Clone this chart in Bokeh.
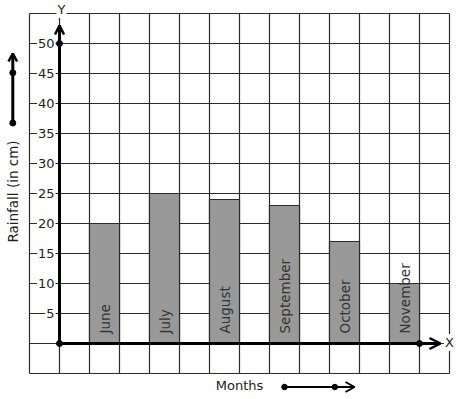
import numpy as np
from bokeh.plotting import figure
from bokeh.models import Range1d, ColumnDataSource
from bokeh.core.properties import value
from bokeh.embed import file_html
from bokeh.resources import INLINE

months = ["June", "July", "August", "September", "October", "November"]
rainfall = [20, 25, 24, 23, 17, 10]
y_ticks = [5, 10, 15, 20, 25, 30, 35, 40, 45, 50]
x_title = "Months"
y_title = "Rainfall (in cm)"

W, H = 457, 399
# pixel mapping: 1 x-unit = 30px, origin at px 59; 1 y-unit = 6px, origin at px 343
x0_px, y0_px = 59, 343
xs, ys = 30.0, 6.0
p = figure(width=W, height=H, output_backend="svg", toolbar_location=None,
           x_range=Range1d(-x0_px / xs, (W - x0_px) / xs),
           y_range=Range1d(-(H - y0_px) / ys, y0_px / ys),
           min_border=0, min_border_left=0, min_border_right=0,
           min_border_top=0, min_border_bottom=0)
p.axis.visible = False
p.grid.visible = False
p.outline_line_color = None
p.background_fill_color = "white"
p.border_fill_color = "white"

def px(xp):
    return (xp - x0_px) / xs

def py(yp):
    return (y0_px - yp) / ys

# grid
gx = np.arange(-1, 14)
gy = np.arange(-5, 56, 5)
p.segment(x0=gx, y0=-5, x1=gx, y1=55, line_color="#2b2b2b", line_width=1.2)
p.segment(x0=-1, y0=gy, x1=13, y1=gy, line_color="#2b2b2b", line_width=1.2)

# bars (drawn over the grid)
centers = [1.5 + 2 * i for i in range(len(months))]
src = ColumnDataSource(dict(x=centers, top=rainfall, m=months))
p.vbar(x="x", top="top", bottom=0, width=1, source=src,
       fill_color="#999999", line_color="#2b2b2b", line_width=1.2)

# month labels inside bars
p.text(x="x", y=py(333), text="m", source=src, angle=np.pi / 2,
       x_offset=0, text_align="left", text_baseline="middle",
       text_font=value("DejaVu Sans"), text_font_size="13.5px", text_color="#333333")

# y tick labels
p.text(x=px(55), y=y_ticks, text=[str(t) for t in y_ticks],
       text_align="right", text_baseline="middle",
       text_font=value("DejaVu Sans"), text_font_size="13px", text_color="#222222",
       background_fill_color="white", padding=1)

# axes
p.segment(x0=0, y0=0, x1=0, y1=py(25), line_color="black", line_width=3)
p.segment(x0=0, y0=0, x1=px(439), y1=0, line_color="black", line_width=3)
# y arrow head
p.multi_line(xs=[[px(54.5), px(59), px(63.5)]], ys=[[py(34), py(25), py(34)]],
             line_color="black", line_width=2.5)
# x arrow head
p.multi_line(xs=[[px(429), px(440), px(429)]], ys=[[py(337.5), py(343), py(348.5)]],
             line_color="black", line_width=2.5)
p.scatter(x=[0, 0, px(419)], y=[0, 50, 0], size=6, color="black")

p.text(x=[px(61)], y=[py(9)], text=["Y"], text_align="center", text_baseline="middle",
       text_font=value("DejaVu Sans"), text_font_size="13px", text_color="#222222",
       background_fill_color="white", padding=1)
p.text(x=[px(449)], y=[py(342)], text=["X"], text_align="center", text_baseline="middle",
       text_font=value("DejaVu Sans"), text_font_size="13px", text_color="#222222",
       background_fill_color="white", padding=1)

# y title with arrow
p.text(x=[px(12.3)], y=[py(191)], text=[y_title], angle=np.pi / 2,
       text_align="center", text_baseline="middle",
       text_font=value("DejaVu Sans"), text_font_size="13.5px", text_color="#222222")
p.segment(x0=px(12.3), y0=py(122.5), x1=px(12.3), y1=py(53), line_color="black", line_width=3)
p.multi_line(xs=[[px(8), px(12.3), px(16.6)]], ys=[[py(61), py(53), py(61)]],
             line_color="black", line_width=2.5)
p.scatter(x=[px(12.3), px(12.3)], y=[py(122.5), py(72.3)], size=6, color="black")

# x title with arrow
p.text(x=[px(239)], y=[py(385)], text=[x_title], text_align="center", text_baseline="middle",
       text_font=value("DejaVu Sans"), text_font_size="13px", text_color="#222222")
p.segment(x0=px(284), y0=py(386.5), x1=px(354), y1=py(386.5), line_color="black", line_width=2)
p.multi_line(xs=[[px(345), px(354), px(345)]], ys=[[py(381.5), py(386.5), py(391.5)]],
             line_color="black", line_width=2)
p.scatter(x=[px(284), px(334.3)], y=[py(386.5), py(386.5)], size=5.5, color="black")

open("out.html", "w").write(file_html(p, INLINE))
